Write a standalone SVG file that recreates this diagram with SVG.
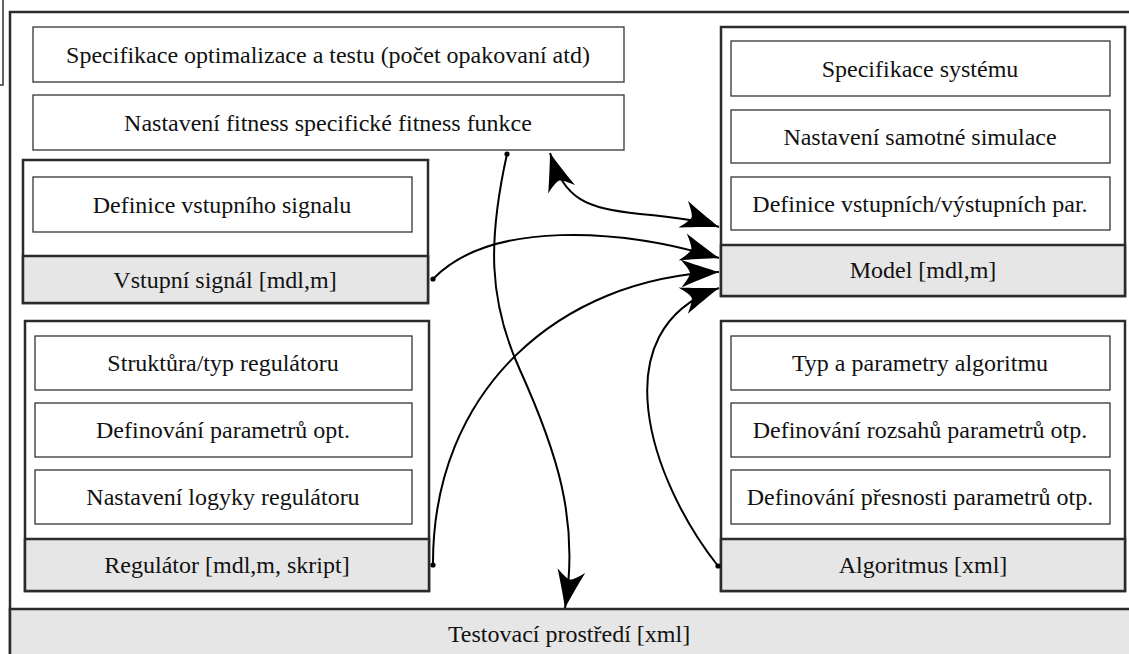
<svg xmlns="http://www.w3.org/2000/svg" width="1129" height="654" viewBox="0 0 1129 654">
  <style>
    .frame { fill: #ffffff; stroke: #2b2b2b; stroke-width: 2.5; }
    .group { fill: #ffffff; stroke: #2b2b2b; stroke-width: 2.5; }
    .box { fill: #ffffff; stroke: #333333; stroke-width: 1.3; }
    .bar { fill: #e6e6e6; stroke: #2b2b2b; stroke-width: 2.5; }
    text { font-family: 'Liberation Serif', 'Times New Roman', serif; font-size: 24px; fill: #111111; text-anchor: middle; }
    .link { fill: none; stroke: #000000; stroke-width: 2; }
  </style>
  <defs>
    <marker id="stealth" markerUnits="userSpaceOnUse" markerWidth="50" markerHeight="40" refX="0" refY="0" orient="auto-start-reverse" overflow="visible">
      <path d="M0,0 C-12,-4 -28,-10 -38,-14 C-32,-7 -29,-2 -29,0 C-29,2 -32,7 -38,14 C-28,10 -12,4 0,0 Z" fill="#000000"/>
    </marker>
  </defs>

  <!-- outer frame -->
  <rect class="frame" x="10" y="12" width="1130" height="660"/>
  <path d="M0,85 H3 V0" fill="none" stroke="#333333" stroke-width="1.5"/>

  <!-- optimisation / fitness settings -->
  <g id="spec-opt">
    <rect class="box" x="33" y="27" width="591" height="55"/>
    <text x="328" y="63">Specifikace optimalizace a testu (počet opakovaní atd)</text>
  </g>
  <g id="fitness">
    <rect class="box" x="33" y="95" width="591" height="55"/>
    <text x="328" y="131">Nastavení fitness specifické fitness funkce</text>
  </g>

  <!-- input signal -->
  <g id="vstupni-signal">
    <rect class="group" x="23" y="160" width="405" height="143"/>
    <rect class="box" x="33" y="177" width="379" height="55"/>
    <text x="222" y="213">Definice vstupního signalu</text>
    <rect class="bar" x="23" y="256" width="405" height="47"/>
    <text x="225" y="288">Vstupní signál [mdl,m]</text>
  </g>

  <!-- controller -->
  <g id="regulator">
    <rect class="group" x="25" y="321" width="404" height="270"/>
    <rect class="box" x="35" y="336" width="377" height="54"/>
    <text x="223" y="371">Struktůra/typ regulátoru</text>
    <rect class="box" x="35" y="403" width="377" height="54"/>
    <text x="223" y="438">Definování parametrů opt.</text>
    <rect class="box" x="35" y="470" width="377" height="54"/>
    <text x="223" y="505">Nastavení logyky regulátoru</text>
    <rect class="bar" x="25" y="539" width="404" height="52"/>
    <text x="227" y="573">Regulátor [mdl,m, skript]</text>
  </g>

  <!-- model -->
  <g id="model">
    <rect class="group" x="721" y="27" width="404" height="269"/>
    <rect class="box" x="731" y="41" width="379" height="55"/>
    <text x="920" y="77">Specifikace systému</text>
    <rect class="box" x="731" y="110" width="379" height="53"/>
    <text x="920" y="145">Nastavení samotné simulace</text>
    <rect class="box" x="731" y="177" width="379" height="53"/>
    <text x="920" y="212">Definice vstupních/výstupních par.</text>
    <rect class="bar" x="721" y="245" width="404" height="51"/>
    <text x="923" y="278">Model [mdl,m]</text>
  </g>

  <!-- algorithm -->
  <g id="algoritmus">
    <rect class="group" x="721" y="321" width="404" height="270"/>
    <rect class="box" x="731" y="336" width="379" height="54"/>
    <text x="920" y="371">Typ a parametry algoritmu</text>
    <rect class="box" x="731" y="403" width="379" height="54"/>
    <text x="920" y="438">Definování rozsahů parametrů otp.</text>
    <rect class="box" x="731" y="470" width="379" height="54"/>
    <text x="920" y="505">Definování přesnosti parametrů otp.</text>
    <rect class="bar" x="721" y="539" width="404" height="52"/>
    <text x="923" y="573">Algoritmus [xml]</text>
  </g>

  <!-- test environment -->
  <g id="testovaci-prostredi">
    <rect class="bar" x="10" y="609" width="1130" height="60"/>
    <text x="569" y="642">Testovací prostředí [xml]</text>
  </g>

  <!-- connectors -->
  <g id="connectors">
    <path class="link" d="M507,154 C488,240 488,300 520,370 C556,450 580,520 565,608" marker-end="url(#stealth)"/>
    <circle cx="507" cy="154" r="2.6"/>

    <path class="link" d="M550,153 C565,200 585,208 640,214 C685,218 705,222 719,227" marker-start="url(#stealth)" marker-end="url(#stealth)"/>

    <path class="link" d="M433,279 C490,220 620,228 719,258" marker-end="url(#stealth)"/>
    <circle cx="433" cy="279" r="2.6"/>

    <path class="link" d="M433,565 C432,390 560,278 719,272" marker-end="url(#stealth)"/>
    <circle cx="433" cy="565" r="2.6"/>

    <path class="link" d="M718,566 C650,480 600,330 719,288" marker-end="url(#stealth)"/>
    <circle cx="718" cy="566" r="2.6"/>
  </g>
</svg>
